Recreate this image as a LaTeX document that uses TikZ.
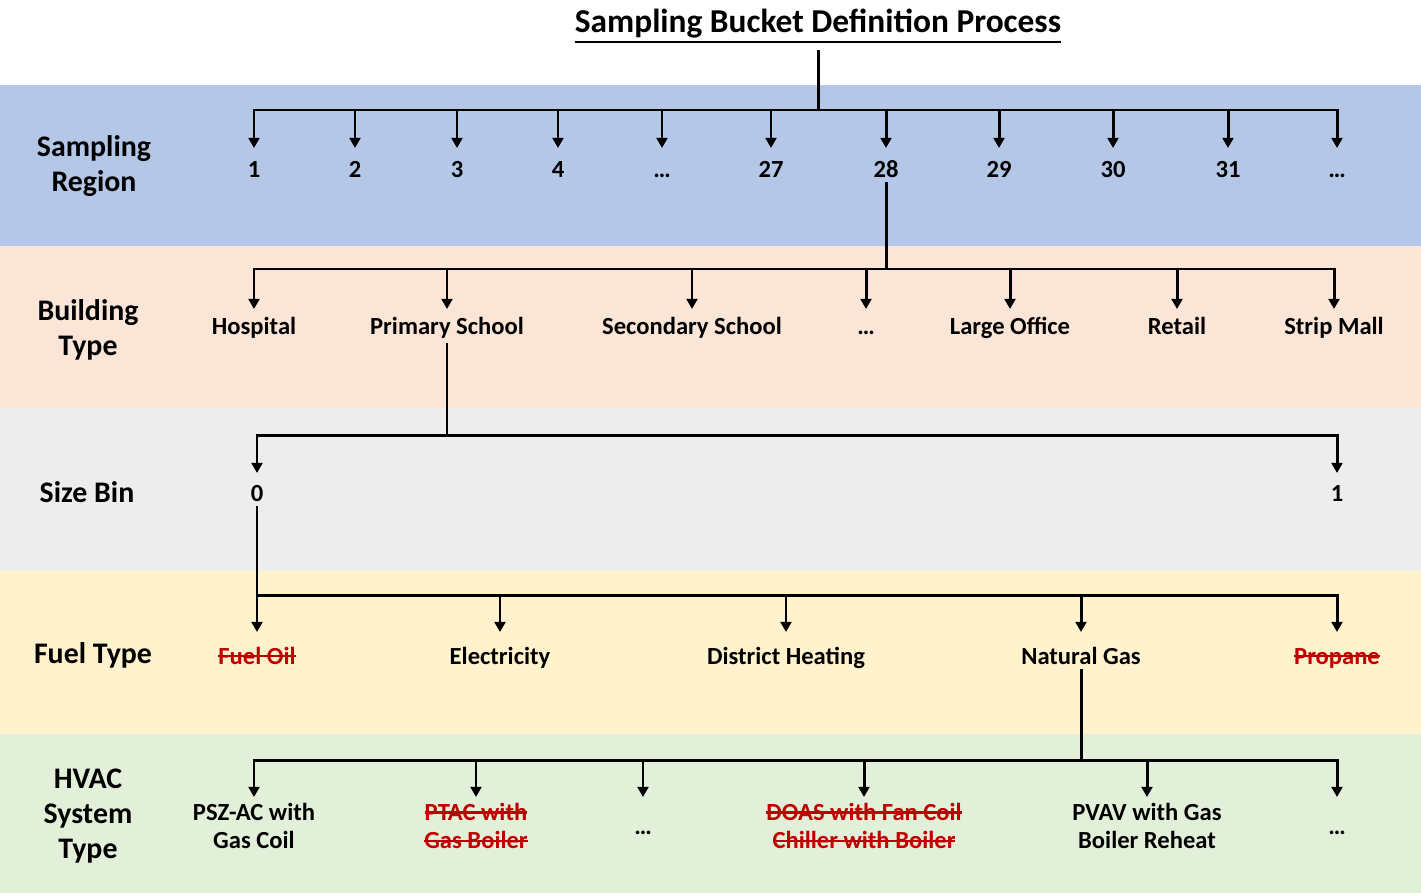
\documentclass[tikz,border=0pt]{standalone}
\usepackage{fontspec}
\setmainfont{Carlito}
\usetikzlibrary{arrows.meta}
\definecolor{bandblue}{HTML}{B4C7E7}
\definecolor{bandpeach}{HTML}{FBE5D6}
\definecolor{bandgray}{HTML}{EDEDED}
\definecolor{bandyellow}{HTML}{FFF2CC}
\definecolor{bandgreen}{HTML}{E2F0D9}
\definecolor{dropred}{HTML}{C00000}
% struck-out (dropped) option, and the title rule
\newcommand{\dropped}[1]{\textcolor{dropred}{\setbox0\hbox{#1}%
  \rlap{\raisebox{0.27em}{\rule{\wd0}{1.3pt}}}\box0}}
\newcommand{\ruled}[1]{\setbox0\hbox{#1}%
  \rlap{\raisebox{-0.3em}{\rule{\wd0}{1.1pt}}}\box0}

\begin{document}
\begin{tikzpicture}[x=0.02cm,y=-0.02cm,
  side/.style={font=\fontsize{17}{20}\selectfont\bfseries,align=center,inner sep=0},
  lbl/.style={font=\fontsize{14}{16.4}\selectfont\bfseries,align=center,inner sep=2.5pt},
  ln/.style={line width=1.7pt},
  bar/.style={ln,line cap=rect},
  arr/.style={ln,-{Triangle[width=6.2pt,length=5.8pt]}}]

\useasboundingbox (0,0) rectangle (1421,893);

% ---- bands
\fill[white] (0,0) rectangle (1421,85);
\fill[bandblue] (0,85) rectangle (1421,246);
\fill[bandpeach] (0,246) rectangle (1421,408);
\fill[bandgray] (0,408) rectangle (1421,571);
\fill[bandyellow] (0,571) rectangle (1421,734);
\fill[bandgreen] (0,734) rectangle (1421,893);

% ---- level lines
\coordinate (bar1) at (0,110); \coordinate (tip1) at (0,148);
\coordinate (bar2) at (0,269); \coordinate (tip2) at (0,309);
\coordinate (bar3) at (0,435); \coordinate (tip3) at (0,473);
\coordinate (bar4) at (0,595); \coordinate (tip4) at (0,632);
\coordinate (bar5) at (0,760); \coordinate (tip5) at (0,797);

% ---- title
\node[font=\fontsize{19}{23}\selectfont\bfseries,inner sep=4pt] (title) at (818,26)
  {\ruled{Sampling Bucket Definition Process}};

% ---- side labels
\node[side] (lreg)  at (94,166)  {Sampling\\Region};
\node[side] (lbld)  at (88,330)  {Building\\Type};
\node[side] (lsize) at (87,492)  {Size Bin};
\node[side] (lfuel) at (93,655)  {Fuel Type};
\node[side] (lhvac) at (88,816)  {HVAC\\System\\Type};

% ---- sampling region
\foreach \x/\t/\n in {254/1/r1,355/2/r2,457/3/r3,558/4/r4,662/\dots/rd1,
    771/27/r27,886/28/r28,999/29/r29,1113/30/r30,1228/31/r31,1337/\dots/rd2}
  \node[lbl,anchor=base] (\n) at (\x,177) {\t};
\draw[ln] (title.south)--(title |- bar1);
\draw[bar] (r1 |- bar1)--(rd2 |- bar1);
\foreach \n in {r1,r2,r3,r4,rd1,r27,r28,r29,r30,r31,rd2}
  \draw[arr] (\n |- bar1)--(\n |- tip1);

% ---- building type
\node[lbl,anchor=base] (b1) at (254,334)  {Hospital};
\node[lbl,anchor=base] (b2) at (447,334)  {Primary School};
\node[lbl,anchor=base] (b3) at (692,334)  {Secondary School};
\node[lbl,anchor=base] (b4) at (866,334)  {\dots};
\node[lbl,anchor=base] (b5) at (1010,334) {Large Office};
\node[lbl,anchor=base] (b6) at (1177,334) {Retail};
\node[lbl,anchor=base] (b7) at (1334,334) {Strip Mall};
\draw[ln] (r28.south)--(r28 |- bar2);
\draw[bar] (b1 |- bar2)--(b7 |- bar2);
\foreach \n in {b1,b2,b3,b4,b5,b6,b7}
  \draw[arr] (\n |- bar2)--(\n |- tip2);

% ---- size bin
\node[lbl,anchor=base] (s0) at (257,501)  {0};
\node[lbl,anchor=base] (s1) at (1337,501) {1};
\draw[ln] (b2.south)--(b2 |- bar3);
\draw[bar] (s0 |- bar3)--(s1 |- bar3);
\foreach \n in {s0,s1}
  \draw[arr] (\n |- bar3)--(\n |- tip3);

% ---- fuel type
\node[lbl,anchor=base] (f1) at (257,664)  {\dropped{Fuel Oil}};
\node[lbl,anchor=base] (f2) at (500,664)  {Electricity};
\node[lbl,anchor=base] (f3) at (786,664)  {District Heating};
\node[lbl,anchor=base] (f4) at (1081,664) {Natural Gas};
\node[lbl,anchor=base] (f5) at (1337,664) {\dropped{Propane}};
\draw[ln] (s0.south)--(s0 |- bar4);
\draw[bar] (f1 |- bar4)--(f5 |- bar4);
\foreach \n in {f1,f2,f3,f4,f5}
  \draw[arr] (\n |- bar4)--(\n |- tip4);

% ---- hvac system type
\node[lbl] (h1) at (254,826)  {PSZ-AC with\\Gas Coil};
\node[lbl] (h2) at (476,826)  {\dropped{PTAC with}\\\dropped{Gas Boiler}};
\node[lbl,anchor=base] (h3) at (643,834) {\dots};
\node[lbl] (h4) at (864,826)  {\dropped{DOAS with Fan Coil}\\\dropped{Chiller with Boiler}};
\node[lbl] (h5) at (1147,826) {PVAV with Gas\\Boiler Reheat};
\node[lbl,anchor=base] (h6) at (1337,834) {\dots};
\draw[ln] (f4.south)--(f4 |- bar5);
\draw[bar] (h1 |- bar5)--(h6 |- bar5);
\foreach \n in {h1,h2,h3,h4,h5,h6}
  \draw[arr] (\n |- bar5)--(\n |- tip5);
\end{tikzpicture}
\end{document}
